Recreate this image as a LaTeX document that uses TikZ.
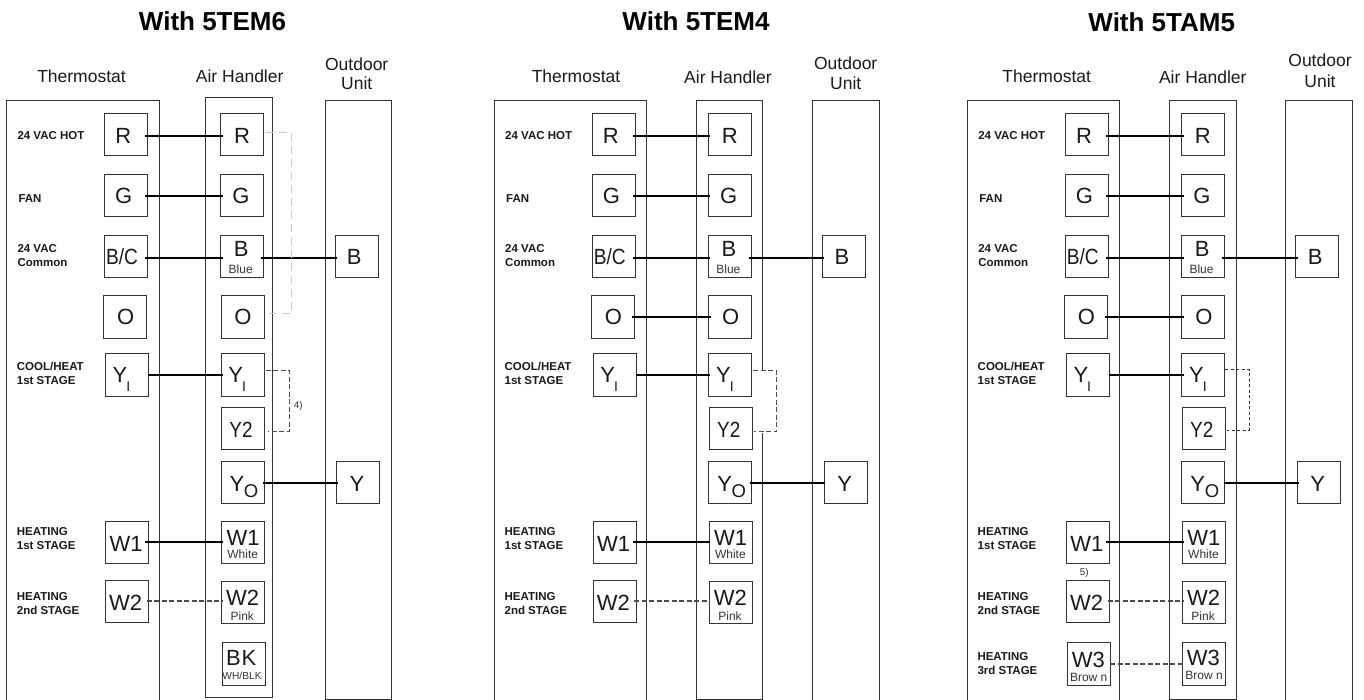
\documentclass[tikz,border=0pt]{standalone}
\usepackage{graphicx}
\usepackage{fontspec}
\setmainfont{Liberation Sans}
\newcount\txc
\newcommand\fsz[1]{\fontsize{#1}{#1}\selectfont}
\newcommand\tb[3]{\node[term] (#1) at ({#2+21.5},{#3+21.15}) {};}
\newcommand\tx[3]{\global\advance\txc by 1 \node[tlab] (t\the\txc) at (#1,#2) {#3};}
\newcommand\sx[3]{\global\advance\txc by 1 \node[slab] (t\the\txc) at (#1,#2) {#3};}
\newcommand\bl[3]{\global\advance\txc by 1 \node[blab] (t\the\txc) at (#1,#2) {#3};}
\newcommand\twol[2]{\vtop{\baselineskip=14pt\hbox{#1}\hbox{#2}}}
\newcommand\oul[1]{\vtop{\baselineskip=#1pt\halign{\hfil##\hfil\cr Outdoor\cr Unit\cr}}}
\newcommand\YI{Y\hspace{-1pt}\raisebox{-9pt}{\fsz{14}I}}
\newcommand\YO{Y\hspace{-0.4pt}\raisebox{-6pt}{\fsz{18.5}O}}
% style, node a, shift at a, node b, shift at b, y
\newcommand\wire[6]{\draw[#1] ([xshift=#3pt]#2.east |- 0,#6) -- ([xshift=#5pt]#4.west |- 0,#6);}
\newcommand\common[1]{%
  \draw[frame] (6.7,705) -- (6.7,100) -- (159,100) -- (159,705);
  \tb{#1tR}{104.3}{113.3}\tb{#1tG}{104.3}{174.3}\tb{#1tB}{104.3}{235}\tb{#1tO}{103.3}{295.7}
  \tb{#1tY}{105.7}{353.7}\tb{#1tWa}{105.7}{521}\tb{#1tWb}{105.7}{580.3}
  \tb{#1aR}{220.3}{113.3}\tb{#1aG}{220.3}{174.3}\tb{#1aB}{220.3}{235}\tb{#1aO}{221}{295.7}
  \tb{#1aY}{221}{353.7}\tb{#1aYb}{221.3}{407.3}\tb{#1aYo}{221}{461.3}\tb{#1aWa}{221.7}{521}\tb{#1aWb}{221.7}{581.3}
  \tb{#1oB}{335}{235}\tb{#1oY}{336.3}{461.3}
  \tx{123.2}{143.3}{R}\tx{123.7}{204}{G}\tx{122}{265}{\scalebox{0.87}[1]{B/C}}\tx{125.7}{324.3}{O}
  \tx{121.5}{382.7}{\YI}\tx{126}{551}{W1}\tx{125.7}{610.7}{W2}
  \tx{242}{143.3}{R}\tx{241}{204}{G}\tx{241.3}{256.7}{B}\sx{240.7}{273.3}{Blue}\tx{243}{324.3}{O}
  \tx{237.2}{382.7}{\YI}\tx{241}{437.7}{\scalebox{0.86}[1]{Y2}}\tx{244}{491.7}{\YO}
  \tx{243}{545}{W1}\sx{242.7}{558}{White}\tx{242.7}{605.7}{W2}\sx{242.3}{620}{Pink}
  \tx{354.3}{264.7}{B}\tx{357}{491}{Y}
  \bl{17.3}{140}{24 VAC HOT}\bl{18.3}{203}{FAN}\bl{17.3}{252.7}{\twol{24 VAC}{Common}}
  \bl{16.7}{370.7}{\twol{COOL/HEAT}{1st STAGE}}\bl{16.7}{535.7}{\twol{HEATING}{1st STAGE}}\bl{16.7}{600.7}{\twol{HEATING}{2nd STAGE}}
  \wire{wire}{#1tR}{-2}{#1aR}{2.4}{136}
  \wire{wire}{#1tG}{-2}{#1aG}{2.4}{196}
  \wire{wire}{#1tB}{-2}{#1aB}{2.4}{258}
  \wire{wire}{#1aB}{-2}{#1oB}{1.7}{258}
  \wire{wire}{#1tY}{-0.4}{#1aY}{1.7}{375}
  \wire{wire}{#1aYo}{-1.3}{#1oY}{1.4}{483}
  \wire{wire}{#1tWa}{-3.4}{#1aWa}{1}{542}
  \wire{dashwire}{#1tWb}{-2}{#1aWb}{1}{601}
}
\tikzset{
  frame/.style={draw=black!80,line width=0.9pt},
  term/.style={draw=black!80,line width=0.9pt,minimum width=43pt,minimum height=42.3pt,inner sep=0pt,outer sep=0pt},
  tlab/.style={anchor=base,inner sep=0pt,font=\fsz{22},text=black!90},
  slab/.style={anchor=base,inner sep=0pt,font=\fsz{12},text=black!80},
  blab/.style={anchor=base west,inner sep=0pt,font=\fsz{11.5}\bfseries,text=black!90},
  head/.style={anchor=base,inner sep=0pt,font=\fsz{17.5},text=black!90},
  titl/.style={anchor=base,inner sep=0pt,font=\fsz{26}\bfseries},
  note/.style={anchor=base,inner sep=0pt,font=\fsz{9.8},text=black!80},
  wire/.style={draw=black,line width=1.6pt},
  dashwire/.style={draw=black!70,line width=1.1pt,dash pattern=on 5pt off 2.5pt},
  jump/.style={draw=black!70,line width=1.1pt,dash pattern=on 5pt off 2.5pt},
  pale/.style={draw=black!20,line width=0.8pt,dash pattern=on 8pt off 5pt},
}
\begin{document}
\begin{tikzpicture}[x=1pt,y=-1pt]
\useasboundingbox (0,0) rectangle (1364,700);
% ---------- panel 1
\node[titl] (title1) at (212.5,31) {With 5TEM6};
\node[head] (th1) at (81.5,82.7) {Thermostat};
\node[head] (ah1) at (239.7,82.7) {Air Handler};
\node[head] (ou1) at (356.7,71) {\oul{19}};
\draw[frame] (205.7,97.5) rectangle (272.7,697);
\draw[frame] (325,705) -- (325,100) -- (391.7,100) -- (391.7,699) -- (325,699);
\common{p}
\tb{paK}{222.3}{642.7}
\tx{241.3}{665}{B\hspace{0.8pt}K}
\global\advance\txc by 1 \node[slab,font=\fsz{10.2}] (t\the\txc) at (242,679.3) {WH/BLK};
\coordinate (pc1) at (291.7,132.7);
\coordinate (pc2) at (291.7,313.3);
\draw[pale] ([xshift=3pt]paR.east |- pc1) -- (pc1) -- (pc2) -- ([xshift=2.5pt]paO.east |- pc2);
\coordinate (pd1) at (289.3,370.7);
\coordinate (pd2) at (289.3,431.7);
\draw[jump] ([xshift=1.5pt]paY.east |- pd1) -- (pd1) -- (pd2) -- ([xshift=4pt]paYb.east |- pd2);
\node[note] (n4) at (298.3,408.3) {4)};
% ---------- panel 2
\node[titl] (title2) at (696,31) {With 5TEM4};
\node[head] (th2) at (576,82.7) {Thermostat};
\node[head] (ah2) at (728,83.7) {Air Handler};
\node[head] (ou2) at (845.7,69.3) {\oul{20.7}};
\draw[frame] (762.7,370.7) -- (762.7,100) -- (696.3,100) -- (696.3,699) -- (762.7,699) -- (762.7,433);
\draw[frame] (812.3,705) -- (812.3,100) -- (879,100) -- (879,705);
\begin{scope}[xshift=487.7pt]
\common{q}
\wire{wire}{qtO}{-2}{qaO}{2.3}{316.7}
\coordinate (qd1) at (289,370.7);
\coordinate (qd2) at (289,431.7);
\draw[jump] ([xshift=1.5pt]qaY.east |- qd1) -- (qd1) -- (qd2) -- ([xshift=2.3pt]qaYb.east |- qd2);
\end{scope}
% ---------- panel 3
\node[titl] (title3) at (1161.7,32) {With 5TAM5};
\node[head] (th3) at (1046.7,82.7) {Thermostat};
\node[head] (ah3) at (1202.8,83.7) {Air Handler};
\node[head] (ou3) at (1320,67) {\oul{21}};
\draw[frame] (1169.3,100) rectangle (1236.3,699);
\draw[frame] (1285.7,705) -- (1285.7,100) -- (1352.3,100) -- (1352.3,705);
\begin{scope}[xshift=960.8pt]
\common{r}
\wire{wire}{rtO}{-2}{raO}{2.3}{316.7}
\tb{rtWc}{106.2}{642.7}
\tb{raWc}{221.9}{642.7}
\tx{127.5}{667.3}{W3}\sx{127.9}{681.3}{Brow n}
\tx{242.5}{665}{W3}\sx{243.2}{679.3}{Brow n}
\bl{16.5}{660.7}{\twol{HEATING}{3rd STAGE}}
\wire{dashwire,line width=1.3pt}{rtWc}{0}{raWc}{0.4}{664}
\coordinate (rd1) at (288.2,369.3);
\coordinate (rd2) at (288.2,430.3);
\draw[jump,draw=black!80,line width=0.8pt,dash pattern=on 3pt off 2.5pt] ([xshift=0.5pt]raY.east |- rd1) -- (rd1) -- (rd2) -- ([xshift=2pt]raYb.east |- rd2);
\node[note] (n5) at (123.5,575) {5)};
\end{scope}
\end{tikzpicture}
\end{document}
